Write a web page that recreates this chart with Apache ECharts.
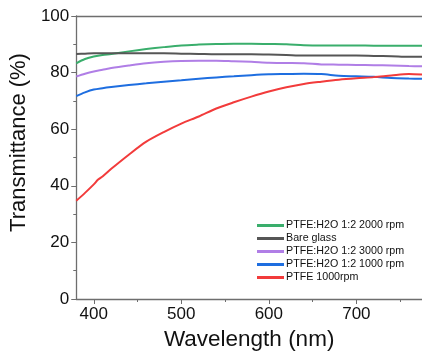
<!DOCTYPE html>
<html><head><meta charset="utf-8">
<script src="https://cdn.jsdelivr.net/npm/echarts@6/dist/echarts.min.js"></script>
<style>html,body{margin:0;padding:0;background:#fff}#c{width:422px;height:361px}</style>
</head><body><div id="c"></div>
<script>
var wavelengths = [380,390,400,410,420,440,460,480,500,520,540,560,580,600,620,640,660,680,700,720,740,760,775];
var green2000 = [83.3,84.8,85.7,86.2,86.6,87.5,88.3,89.0,89.6,89.9,90.1,90.2,90.2,90.1,90.0,89.7,89.6,89.6,89.6,89.5,89.5,89.5,89.5];
var bareGlass = [86.6,86.7,86.8,86.8,86.8,86.8,86.8,86.8,86.7,86.6,86.5,86.5,86.5,86.4,86.2,86.0,86.0,86.0,86.0,85.9,85.8,85.6,85.6];
var purple3000 = [78.6,79.6,80.4,81.0,81.6,82.5,83.3,83.8,84.1,84.2,84.2,84.0,83.8,83.5,83.4,83.3,82.9,82.8,82.7,82.6,82.5,82.3,82.2];
var blue1000 = [71.7,73.0,74.0,74.5,74.9,75.6,76.2,76.8,77.3,77.8,78.3,78.7,79.1,79.4,79.5,79.6,79.5,78.9,78.7,78.5,78.1,77.9,77.8];
var redWavelengths = [380,390,400,405,410,420,440,460,480,500,520,540,560,580,600,620,640,660,680,700,720,740,760,775];
var ptfe1000 = [34.7,37.5,40.5,42.2,43.3,46.0,51.0,55.6,59.0,62.0,64.5,67.3,69.5,71.5,73.3,74.8,76.0,76.8,77.5,78.0,78.4,79.0,79.5,79.3];
var seriesNames = ['PTFE:H2O 1:2 2000 rpm','Bare glass','PTFE:H2O 1:2 3000 rpm','PTFE:H2O 1:2 1000 rpm','PTFE 1000rpm'];
var xTickLabels = [400,500,600,700];
var xMinorTicks = [450,550,650,750];
var colors = ['#3aae6c','#565656','#b07ee6','#1e6ee0','#f23b3b'];

function pairs(xs, ys){ return xs.map(function(x,i){return [x, ys[i]];}); }
var dataSets = [pairs(wavelengths,green2000), pairs(wavelengths,bareGlass), pairs(wavelengths,purple3000), pairs(wavelengths,blue1000), pairs(redWavelengths,ptfe1000)];

var axisColor = '#6e6e6e';
var ff = 'Liberation Sans, Arial, sans-serif';
var chart = echarts.init(document.getElementById('c'), null, {renderer:'canvas'});
chart.setOption({
  animation:false,
  color: colors,
  grid:{left:76, top:16, right:0, bottom:62},
  legend:{
    orient:'vertical', left:252, top:215, itemWidth:27, itemHeight:3, itemGap:2, icon:'rect',
    textStyle:{fontFamily:ff, fontSize:10.7, lineHeight:11, color:'#111', padding:[0,0,0,-3]},
    data: seriesNames
  },
  xAxis:[{
    type:'value', min:380, max:775, position:'bottom',
    name:'Wavelength (nm)', nameLocation:'middle', nameGap:28,
    nameTextStyle:{fontFamily:ff, fontSize:22.5, color:'#111'},
    axisLine:{show:true, lineStyle:{color:axisColor, width:1.3}},
    axisTick:{show:true, inside:false, length:5, customValues:xTickLabels, lineStyle:{color:axisColor}},
    axisLabel:{customValues:xTickLabels, fontFamily:ff, fontSize:17, color:'#111', margin:7},
    splitLine:{show:false}
  },{
    type:'value', min:380, max:775, position:'bottom',
    axisLine:{show:false},
    axisTick:{show:true, length:3, customValues:xMinorTicks, lineStyle:{color:axisColor}},
    axisLabel:{show:false}, splitLine:{show:false}
  },{
    type:'value', min:380, max:775, position:'top',
    axisLine:{show:true, lineStyle:{color:axisColor, width:1.3}},
    axisTick:{show:false}, axisLabel:{show:false}, splitLine:{show:false}
  }],
  yAxis:{
    type:'value', min:0, max:100, interval:20,
    name:'Transmittance (%)', nameLocation:'middle', nameGap:38,
    nameTextStyle:{fontFamily:ff, fontSize:22, color:'#111', padding:[0,0,0,30]},
    axisLine:{show:true, lineStyle:{color:axisColor, width:1.3}},
    axisTick:{show:true, inside:false, length:5, lineStyle:{color:axisColor}},
    minorTick:{show:true, splitNumber:2, length:3, lineStyle:{color:axisColor}},
    axisLabel:{fontFamily:ff, fontSize:17, color:'#111', margin:7},
    splitLine:{show:false}
  },
  series: seriesNames.map(function(n,i){
    return {name:n, type:'line', data:dataSets[i], showSymbol:false, symbol:'none', smooth:0.3,
      lineStyle:{width:2, color:colors[i]}, itemStyle:{color:colors[i]}, xAxisIndex:0};
  })
});
</script></body></html>
